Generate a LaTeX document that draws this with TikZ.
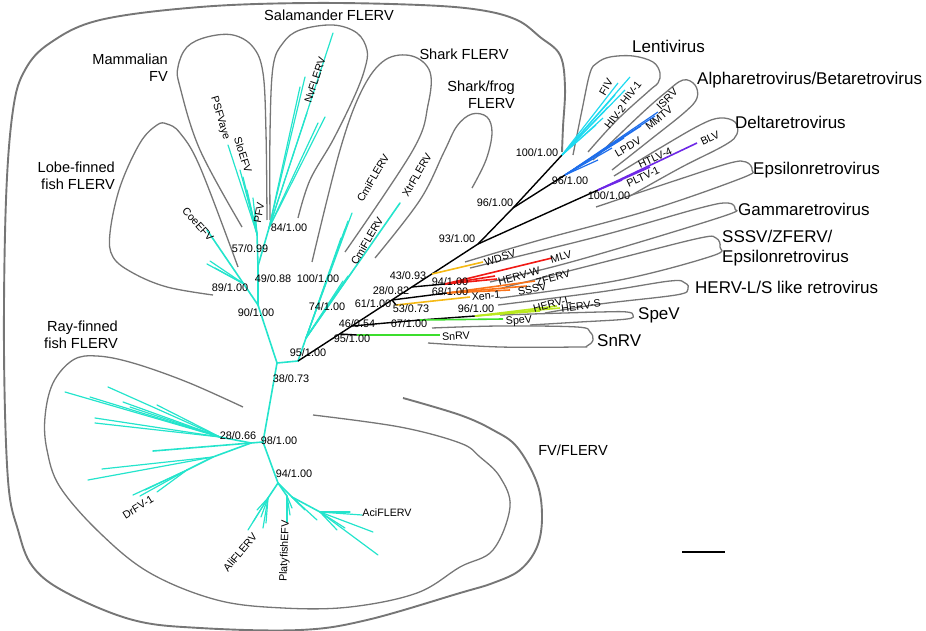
\documentclass[tikz,border=0pt]{standalone}
\usepackage{fontspec}
\setmainfont{Liberation Sans}
\usetikzlibrary{positioning}

\definecolor{flerv}{RGB}{36,228,204}
\definecolor{lenti}{RGB}{30,218,240}
\definecolor{alphab}{RGB}{30,110,235}
\definecolor{deltap}{RGB}{110,40,230}
\definecolor{gammar}{RGB}{240,25,20}
\definecolor{sssvo}{RGB}{250,115,25}
\definecolor{xeng}{RGB}{245,185,20}
\definecolor{hervy}{RGB}{185,232,30}
\definecolor{spevg}{RGB}{60,222,45}
\definecolor{cladeg}{RGB}{118,118,118}

\begin{document}
\begin{tikzpicture}[x=1pt, y=-1pt,
        br/.style = {draw=flerv, line width=1.6pt, line cap=round},
        bk/.style = {draw=black, line width=1.4pt},
        col/.style = {draw=#1, line width=1.6pt},
        clade/.style = {draw=cladeg, line width=1.3pt},
        boot/.style = {font=\fontsize{10.9}{12}\selectfont, inner sep=0pt},
        taxon/.style = {font=\fontsize{10.7}{12}\selectfont, inner sep=0pt},
        lgroup/.style = {font=\fontsize{14.6}{17}\selectfont, inner sep=0pt, align=right},
        rgroup/.style = {font=\fontsize{17}{20}\selectfont, inner sep=0pt, align=left},
    ]
    \useasboundingbox (0,0) rectangle (926,631);

    % clade brackets
    \draw[clade, line width=1.9pt] plot[smooth, tension=0.6] coordinates {(562,152) (563,127) (565,87) (560,55) (540,37) (517,20) (480,10) (420,5) (310,3) (200,7) (100,20) (50,43) (25,70) (13,110) (6,200) (4,350) (8,480) (18,530) (33,567) (67,593) (133,620) (200,628) (300,630) (367,620) (460,593) (493,583) (520,570) (537,547) (542,517) (537,483) (517,447) (493,430) (460,415) (403,398)};
    \draw[clade] plot[smooth, tension=0.6] coordinates {(313,415) (400,427) (460,443) (480,457) (500,477) (510,507) (493,550) (460,567) (417,593) (350,607) (283,608) (217,600) (150,573) (100,533) (60,487) (47,450) (45,417) (53,383) (73,360) (97,356) (133,363) (187,382) (243,407)};
    \draw[clade] plot[smooth, tension=0.6] coordinates {(213,295) (167,287) (133,273) (113,257) (110,233) (120,187) (140,143) (157,125) (167,124) (180,133) (200,167) (238,267)};
    \draw[clade] plot[smooth, tension=0.6] coordinates {(242,227) (200,150) (180,87) (178,67) (187,47) (207,37) (233,35) (253,47) (263,73) (266,133) (267,220)};
    \draw[clade] plot[smooth, tension=0.6] coordinates {(270,220) (270,133) (273,67) (283,43) (300,30) (333,25) (357,33) (367,50) (365,68) (355,95) (333,140) (310,180) (298,218)};
    \draw[clade] plot[smooth, tension=0.6] coordinates {(312,262) (340,150) (362,90) (385,60) (412,56) (430,72) (428,105) (413,150) (345,252)};
    \draw[clade] plot[smooth, tension=0.6] coordinates {(375,258) (420,200) (444,152) (457,126) (472,114) (487,117) (492,133) (486,160) (472,188)};
    \draw[clade] plot[smooth, tension=0.6] coordinates {(573,155) (582,110) (590,73) (597,63) (610,57) (633,56) (653,62) (660,73) (658,83) (650,90) (617,120) (588,152)};
    \draw[clade] plot[smooth, tension=0.6] coordinates {(593,160) (640,115) (665,93) (683,80) (695,85) (697,98) (685,112) (650,140) (612,170)};
    \draw[clade] plot[smooth, tension=0.6] coordinates {(614,176) (660,148) (700,125) (720,118) (735,122) (737,134) (725,145) (680,168) (630,196)};
    \draw[clade] plot[smooth, tension=0.6] coordinates {(596,207) (680,179) (730,163) (746,162) (752,170) (742,178) (650,210) (540,240) (465,262)};
    \draw[clade] plot[smooth, tension=0.6] coordinates {(470,268) (600,236) (700,208) (728,203) (735,209) (727,215) (640,242) (560,265) (490,282)};
    \draw[clade] plot[smooth, tension=0.6] coordinates {(502,288) (620,258) (700,238) (716,238) (720,247) (712,256) (620,280) (500,298)};
    \draw[clade] plot[smooth, tension=0.6] coordinates {(498,305) (600,292) (670,281) (685,283) (688,289) (676,295) (600,304) (545,313)};
    \draw[clade] plot[smooth, tension=0.6] coordinates {(500,315) (600,312) (627,312) (633,315) (627,319) (580,322) (530,325)};
    \draw[clade] plot[smooth, tension=0.6] coordinates {(432,328) (500,326) (577,327) (590,332) (593,340) (587,346) (577,347) (500,347) (428,343)};

    % internal nodes
    \coordinate (n38) at (277,363);
    \coordinate (n98) at (263,442);
    \coordinate (n28f) at (251,443);
    \coordinate (n94) at (278,483);
    \coordinate (n90) at (258,305);
    \coordinate (n89) at (244,284);
    \coordinate (n49) at (258,266);
    \coordinate (n57) at (257,234);
    \coordinate (n84) at (269,228);
    \coordinate (n95) at (298,361);
    \coordinate (n74) at (306,338);
    \coordinate (s95) at (340,334);
    \coordinate (n46) at (352,326);
    \coordinate (n61) at (392,300);
    \coordinate (n28) at (412,287);
    \coordinate (n43) at (432,274);
    \coordinate (n93) at (478,244);
    \coordinate (n96a) at (513,208);
    \coordinate (nlenti) at (562,155);
    \coordinate (nalpha) at (565,175);
    \coordinate (ndelta) at (598,190);
    \coordinate (snb) at (357,335);
    \coordinate (n67) at (420,320);
    \coordinate (n96l) at (475,316);
    \coordinate (n53) at (396,305);
    \coordinate (n68) at (447,293);
    \coordinate (n94r) at (445,284);
    \coordinate (ua) at (220,437);
    \coordinate (la) at (213,457);
    \coordinate (la2) at (187,470);
    \coordinate (ali) at (268,498);
    \coordinate (pla) at (287,496);
    \coordinate (aci) at (292,497);
    \coordinate (acb) at (320,512);

    % FV / FLERV branches
    \draw[br] (n95) -- (n38) -- (n90) -- (n49) -- (n57);
    \draw[br] (n38) -- (n98) -- (n94);
    \draw[br] (n98) -- (n28f);
    \draw[br] (n90) -- (207,230);
    \foreach \p in {(207,264),(210,261),(215,268)}
        \draw[br, line width=1.2pt] (n89) -- \p;
    \foreach \p in {(228,145),(243,177),(253,198),(250,205),(247,190),(255,212),(240,170)}
        \draw[br, line width=1.2pt] (n57) -- \p;
    \draw[br] (n49) -- (n84);
    \foreach \p in {(333,33),(305,77),(300,87),(307,113),(325,117),(318,123)}
        \draw[br, line width=1.2pt] (n84) -- \p;
    \draw[br] (n95) -- (n74);
    \foreach \p in {(352,213),(348,221),(345,229),(341,238),(352,272),(348,276),(343,281)}
        \draw[br, line width=1.2pt] (n74) -- \p;
    \draw[br] (n74) -- (400,203);
    \draw[br] (n28f) -- (ua);
    \draw[br] (n28f) -- (la) -- (la2);
    \draw[br] (n28f) -- (153,451);
    \foreach \p in {(65,392),(108,387),(90,397),(130,407),(157,405),(95,418),(95,423),(123,402)}
        \draw[br, line width=1.2pt] (ua) -- \p;
    \foreach \p in {(102,469),(88,480)}
        \draw[br, line width=1.2pt] (la) -- \p;
    \foreach \p in {(133,495),(157,492),(145,490),(140,496)}
        \draw[br, line width=1.2pt] (la2) -- \p;
    \draw[br] (n94) -- (ali);
    \draw[br] (n94) -- (pla);
    \draw[br] (n94) -- (aci) -- (acb);
    \foreach \p in {(248,530),(257,510),(263,528),(261,517),(266,523),(253,522)}
        \draw[br, line width=1.2pt] (ali) -- \p;
    \foreach \p in {(287,522),(290,515),(292,508)}
        \draw[br, line width=1.2pt] (pla) -- \p;
    \foreach \p in {(373,532),(378,555),(362,515),(350,512),(337,530),(345,528)}
        \draw[br, line width=1.2pt] (acb) -- \p;
    \foreach \p in {(305,510),(317,520),(300,505)}
        \draw[br, line width=1.2pt] (aci) -- \p;

    % retrovirus branches
    \draw[bk] (n95) -- (n93) -- (n96a) -- (nlenti);
    \draw[bk] (n96a) -- (nalpha);
    \draw[bk] (n93) -- (ndelta);
    \draw[bk] (s95) -- (snb);
    \draw[bk] (n46) -- (n67) -- (n96l);
    \draw[bk] (n61) -- (n68);
    \draw[bk] (n61) -- (n53);
    \draw[bk] (n28) -- (n94r);
    \foreach \p in {(630,77),(618,83),(625,90),(615,95),(608,107),(603,118),(596,125)}
        \draw[col=lenti, line width=1.2pt] (nlenti) -- \p;
    \foreach \p in {(658,112),(655,116),(641,126),(628,134),(624,138),(612,148),(598,160)}
        \draw[col=alphab, line width=1.2pt] (nalpha) -- \p;
    \foreach \p in {(697,143),(622,180),(650,167)}
        \draw[col=deltap] (ndelta) -- \p;
    \draw[col=spevg] (snb) -- (440,335);
    \draw[col=spevg] (n67) -- (503,319);
    \foreach \p in {(557,306),(560,308),(540,311)}
        \draw[col=hervy] (n96l) -- \p;
    \draw[col=xeng] (n53) -- (470,297);
    \foreach \p in {(535,281),(527,286),(510,290)}
        \draw[col=sssvo] (n68) -- \p;
    \foreach \p in {(552,258),(495,276),(497,279)}
        \draw[col=gammar] (n94r) -- \p;
    \draw[col=xeng] (n43) -- (483,262);

    % scale bar
    \coordinate (sbl) at (682,552);
    \coordinate (sbr) at (725,552);
    \draw[line width=2.6pt] (sbl) -- (sbr);

    % bootstrap / posterior values
    \node[boot] (b84) at (289,228) {84/1.00};
    \node[boot] (b57) at (250,249) {57/0.99};
    \node[boot] (b49) at (273,279) {49/0.88};
    \node[boot] (b100c) at (318,279) {100/1.00};
    \node[boot] (b89) at (230,288) {89/1.00};
    \node[boot] (b90) at (256,313) {90/1.00};
    \node[boot] (b74) at (327,307) {74/1.00};
    \node[boot] (b95a) at (308,353) {95/1.00};
    \node[boot] (b38) at (291,379) {38/0.73};
    \node[boot] (b46) at (357,324) {46/0.54};
    \node[boot] (b95b) at (352,339) {95/1.00};
    \node[boot] (b67) at (409,324) {67/1.00};
    \node[boot] (b61) at (373,304) {61/1.00};
    \node[boot] (b53) at (411,309) {53/0.73};
    \node[boot] (b28) at (391,291) {28/0.82};
    \node[boot] (b43) at (408,276) {43/0.93};
    \node[boot] (b94r) at (450,282) {94/1.00};
    \node[boot] (b68) at (450,292) {68/1.00};
    \node[boot] (b93) at (457,239) {93/1.00};
    \node[boot] (b96a) at (495,203) {96/1.00};
    \node[boot] (b100l) at (537,153) {100/1.00};
    \node[boot] (b96b) at (570,181) {96/1.00};
    \node[boot] (b100d) at (609,196) {100/1.00};
    \node[boot] (b96l) at (476,309) {96/1.00};
    \node[boot] (b28f) at (238,436) {28/0.66};
    \node[boot] (b98) at (279,441) {98/1.00};
    \node[boot] (b94) at (294,474) {94/1.00};

    % taxa
    \node[taxon, rotate=-48] (tcoe) at (198,224) {CoeEFV};
    \node[taxon, rotate=-73] (tpsfv) at (220,118) {PSFVaye};
    \node[taxon, rotate=-72] (tslo) at (243,155) {SloEFV};
    \node[taxon, rotate=80] (tpfv) at (259,213) {PFV};
    \node[taxon, rotate=72] (tnv) at (315,80) {NvFLERV};
    \node[taxon, rotate=60] (tcmi1) at (373,178) {CmiFLERV};
    \node[taxon, rotate=60] (tcmi2) at (367,241) {CmiFLERV};
    \node[taxon, rotate=60] (txtr) at (417,175) {XtrFLERV};
    \node[taxon, rotate=32] (tdr) at (138,507) {DrFV-1};
    \node[taxon, rotate=50] (tali) at (240,552) {AliFLERV};
    \node[taxon, rotate=88] (tpla) at (285,551) {PlatyfishEFV};
    \node[taxon] (taci) at (387,513) {AciFLERV};
    \node[taxon, rotate=60] (tfiv) at (606,87) {FIV};
    \node[taxon, rotate=52] (thiv1) at (631,93) {HIV-1};
    \node[taxon, rotate=52] (thiv2) at (615,117) {HIV-2};
    \node[taxon, rotate=45] (tisrv) at (667,99) {ISRV};
    \node[taxon, rotate=40] (tmmtv) at (659,118) {MMTV};
    \node[taxon, rotate=30] (tlpdv) at (628,147) {LPDV};
    \node[taxon, rotate=25] (thtlv) at (655,158) {HTLV-4};
    \node[taxon, rotate=25] (tblv) at (710,138) {BLV};
    \node[taxon, rotate=25] (tpltv) at (643,177) {PLTV-1};
    \node[taxon, rotate=18] (twdsv) at (500,258) {WDSV};
    \node[taxon, rotate=15] (tmlv) at (561,257) {MLV};
    \node[taxon, rotate=15] (thervw) at (519,276) {HERV-W};
    \node[taxon, rotate=15] (tzferv) at (553,278) {ZFERV};
    \node[taxon, rotate=12] (tsssv) at (532,289) {SSSV};
    \node[taxon, rotate=5] (txen) at (486,296) {Xen-1};
    \node[taxon, rotate=15] (thervl) at (552,304) {HERV-L};
    \node[taxon, rotate=8] (thervs) at (581,306) {HERV-S};
    \node[taxon, rotate=5] (tspev) at (519,321) {SpeV};
    \node[taxon, rotate=3] (tsnrv) at (456,336) {SnRV};

    % groups
    \node[lgroup] (gsal) at (329,15) {Salamander FLERV};
    \node[lgroup, anchor=east] (gmam) at (168,68) {Mammalian\\FV};
    \node[lgroup, anchor=east] (globe) at (115,176) {Lobe-finned\\fish FLERV};
    \node[lgroup] (gshark) at (464,54) {Shark FLERV};
    \node[lgroup, anchor=east] (gfrog) at (515,95) {Shark/frog\\FLERV};
    \node[lgroup, anchor=east] (gray) at (118,335) {Ray-finned\\fish FLERV};
    \node[lgroup] (gfv) at (573,450) {FV/FLERV};
    \node[rgroup, anchor=west] (glenti) at (632,46) {Lentivirus};
    \node[rgroup, anchor=west] (galpha) at (697,80) {Alpharetrovirus/Betaretrovirus};
    \node[rgroup, anchor=west] (gdelta) at (735,122) {Deltaretrovirus};
    \node[rgroup, anchor=west] (geps) at (753,170) {Epsilonretrovirus};
    \node[rgroup, anchor=west] (ggam) at (738,209) {Gammaretrovirus};
    \node[rgroup, anchor=west] (gsssv) at (722,248) {SSSV/ZFERV/\\Epsilonretrovirus};
    \node[rgroup, anchor=west] (gherv) at (695,287) {HERV-L/S like retrovirus};
    \node[rgroup, anchor=west] (gspev) at (638,315) {SpeV};
    \node[rgroup, anchor=west] (gsnrv) at (597,341) {SnRV};
\end{tikzpicture}
\end{document}
